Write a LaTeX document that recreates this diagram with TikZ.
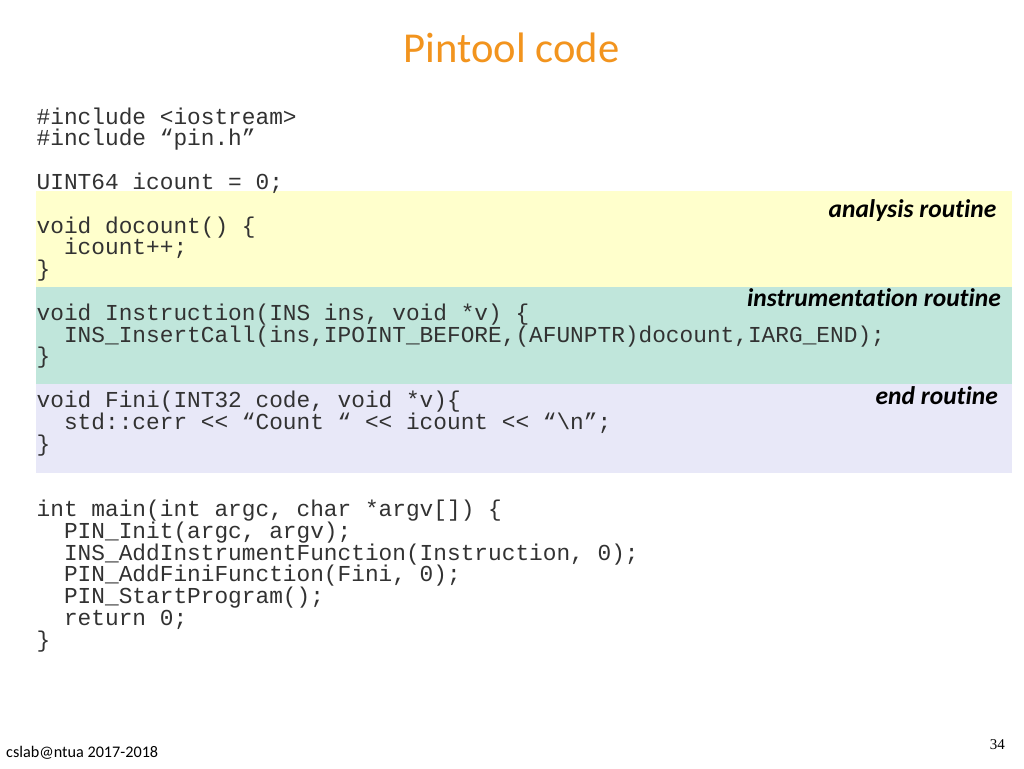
\documentclass[tikz,border=0pt]{standalone}
\usepackage{fontspec}
\setmainfont{Carlito}[Ligatures=NoCommon]
\setmonofont{Liberation Mono}
\newfontfamily\numfont{Liberation Serif}
\definecolor{titleorange}{RGB}{242,148,30}
\definecolor{anayellow}{RGB}{255,255,204}
\definecolor{insteal}{RGB}{192,230,219}
\definecolor{finilav}{RGB}{232,232,248}
\definecolor{codegray}{RGB}{50,50,50}
\tikzset{
  band/.style={fill=#1, draw=none},
  code/.style={anchor=base west, inner sep=0pt, align=left, text=codegray,
    font=\ttfamily\fontsize{22.8}{21.8}\selectfont},
  tag/.style={anchor=base east, inner sep=0pt,
    font=\bfseries\itshape\fontsize{25.5}{30}\selectfont},
}
\begin{document}
\begin{tikzpicture}[x=1pt,y=-1pt]
  \useasboundingbox[fill=white] (0,0) rectangle (1024,768);
  \def\dy{21.8}
  % coloured bands behind the routines
  \fill[band=anayellow] (35.5,190.5) rectangle (1011.5,287);
  \fill[band=insteal] (35.5,287) rectangle (1011.5,383.5);
  \fill[band=finilav] (35.5,383.5) rectangle (1011.5,473);
  \node[anchor=base, inner sep=0pt, text=titleorange, font=\fontsize{42.6}{50}\selectfont] (title) at (511.5,63) {Pintool code};
  % code blocks sit on the baseline of their last line
  \node[code] (inc) at (36.5,124+1*\dy) {\#include <iostream>\\\#include “pin.h”};
  \node[code] (var) at (36.5,124+3*\dy) {UINT64 icount = 0;};
  \node[code] (docount) at (36.5,124+7*\dy) {void docount() \{\\\ \ icount++;\\\}};
  \node[code] (instr) at (36.5,124+11*\dy) {void Instruction(INS ins, void *v) \{\\\ \ INS\_InsertCall(ins,IPOINT\_BEFORE,(AFUNPTR)docount,IARG\_END);\\\}};
  \node[code] (fini) at (36.5,124+15*\dy) {void Fini(INT32 code, void *v)\{\\\ \ std::cerr << “Count “ << icount << “\textbackslash n”;\\\}};
  \node[code] (main) at (36.5,124+24*\dy) {int main(int argc, char *argv[]) \{\\\ \ PIN\_Init(argc, argv);\\\ \ INS\_AddInstrumentFunction(Instruction, 0);\\\ \ PIN\_AddFiniFunction(Fini, 0);\\\ \ PIN\_StartProgram();\\\ \ return 0;\\\}};
  \node[tag] (analysis) at (996.5,217) {analysis routine};
  \node[tag] (instrument) at (1001,306) {instrumentation routine};
  \node[tag] (endr) at (998,404) {end routine};
  \node[anchor=base west, inner sep=0pt, font=\fontsize{16.2}{19}\selectfont] (foot) at (6,757) {cslab@ntua 2017-2018};
  \node[anchor=base east, inner sep=0pt, font=\numfont\fontsize{15}{17}\selectfont] (page) at (1005,749) {34};
\end{tikzpicture}
\end{document}
